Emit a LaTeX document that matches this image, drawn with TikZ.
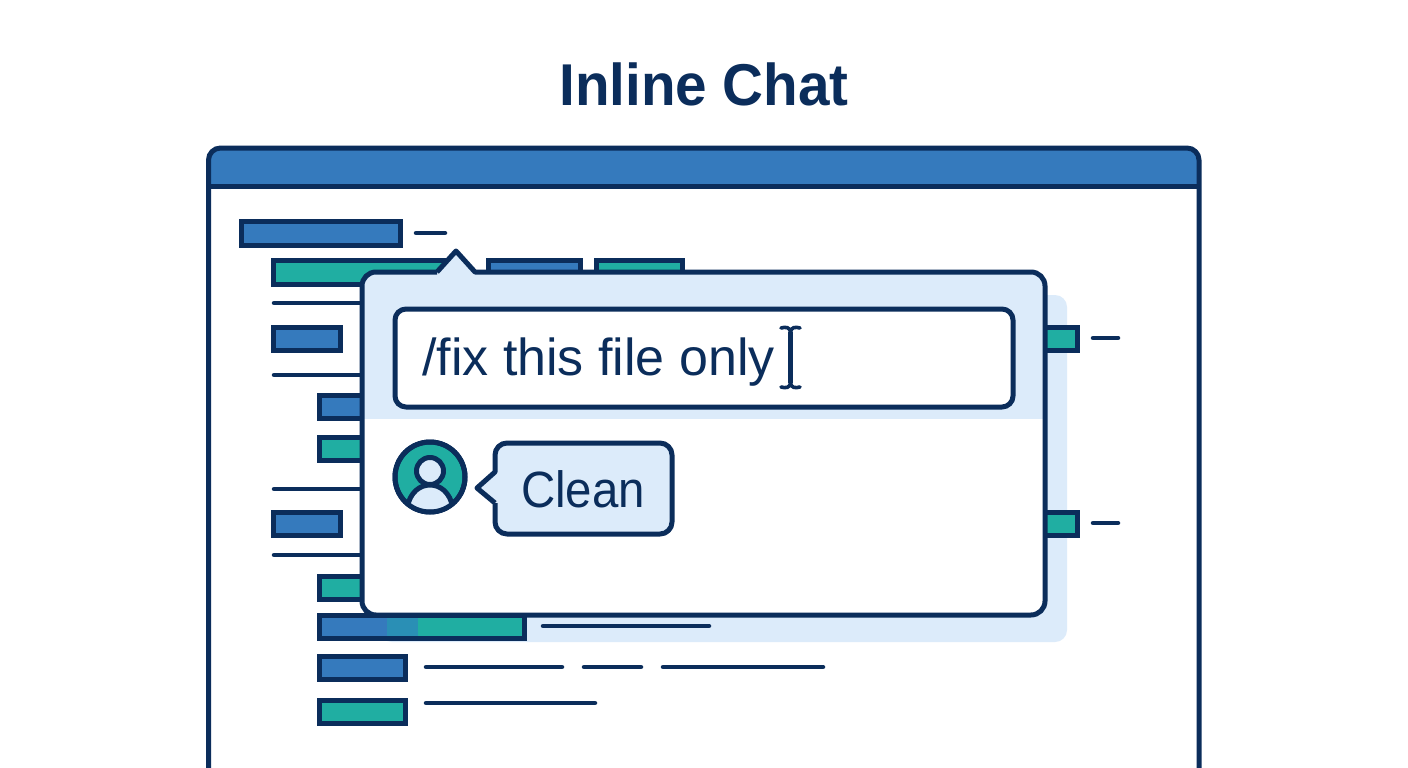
\documentclass[tikz,border=0pt]{standalone}
\usepackage{fontspec}
\setmainfont{Liberation Sans}
\definecolor{navy}{HTML}{0B2D5B}
\definecolor{barblue}{HTML}{357ABD}
\definecolor{bargreen}{HTML}{20AEA2}
\definecolor{barmix}{HTML}{2A8FB5}
\definecolor{pale}{HTML}{DCEBFA}
\tikzset{
  ink/.style={draw=navy,line width=5pt,line join=round},
  bluebar/.style={draw=navy,line width=5pt,line join=miter,fill=barblue},
  greenbar/.style={draw=navy,line width=5pt,line join=miter,fill=bargreen},
  codeline/.style={draw=navy,line width=4.5pt,line cap=round},
  label/.style={text=navy,inner sep=0pt,anchor=base west},
}
\begin{document}
\begin{tikzpicture}[x=1pt,y=-1pt]
\useasboundingbox (0,0) rectangle (1408,768);
\fill[white] (0,0) rectangle (1408,768);
\node[text=navy,inner sep=0pt,anchor=base] (title) at (704,105) {\fontspec{Liberation Sans Bold}[FakeStretch=0.96]\fontsize{59}{70}\selectfont Inline Chat};
% window
\fill[white,rounded corners=12pt] (208.5,790) -- (208.5,148) -- (1199,148) -- (1199,790) -- cycle;
\begin{scope}
\clip (200,140) rectangle (1210,186);
\fill[barblue,rounded corners=12pt] (208.5,230) -- (208.5,148) -- (1199,148) -- (1199,230) -- cycle;
\end{scope}
\begin{scope}
\clip (190,130) rectangle (1220,768);
\draw[ink,rounded corners=12pt] (208.5,790) -- (208.5,148) -- (1199,148) -- (1199,790);
\end{scope}
\draw[ink] (208.5,186) -- (1199,186);
% shadow of the popup
\fill[pale,rounded corners=12pt] (380,295) rectangle (1067,642);
% code
\draw[bluebar] (241.5,221.5) rectangle (400.5,245);
\draw[codeline] (416,233) -- (445,233);
\draw[greenbar] (273.5,260.5) rectangle (450,284);
\draw[bluebar] (488.5,260.5) rectangle (580,284);
\draw[greenbar] (596,260.5) rectangle (682,284);
\draw[codeline] (274,303) -- (370,303);
\draw[bluebar] (273.5,327.5) rectangle (340,350.5);
\draw[codeline] (274,375) -- (370,375);
\draw[bluebar] (319.5,395.5) rectangle (370,418);
\draw[greenbar] (319.5,437) rectangle (370,460);
\draw[codeline] (274,489) -- (370,489);
\draw[bluebar] (273.5,512) rectangle (340,535);
\draw[codeline] (274,555) -- (370,555);
\draw[greenbar] (319.5,576) rectangle (370,599);
\fill[barblue] (319.5,615) rectangle (387,638);
\fill[barmix] (387,615) rectangle (418,638);
\fill[bargreen] (418,615) rectangle (524,638);
\draw[draw=navy,line width=5pt,line join=miter] (319.5,615) rectangle (524,638);
\draw[codeline] (543,626) -- (709,626);
\draw[bluebar] (319.5,656) rectangle (405,679);
\draw[codeline] (426,667) -- (562,667);
\draw[codeline] (584,667) -- (641,667);
\draw[codeline] (663,667) -- (823,667);
\draw[greenbar] (319.5,700.5) rectangle (405,723);
\draw[codeline] (426,703) -- (595,703);
\draw[greenbar] (1030,327.5) rectangle (1077,350.5);
\draw[codeline] (1093,338) -- (1118,338);
\draw[greenbar] (1030,512) rectangle (1077,535);
\draw[codeline] (1093,523) -- (1118,523);
% popup
\fill[white,rounded corners=14pt] (362,272) rectangle (1045,615);
\begin{scope}
\clip[rounded corners=14pt] (362,272) rectangle (1045,615);
\fill[pale] (362,272) rectangle (1045,419);
\end{scope}
\fill[pale] (437,272) -- (456,251) -- (475,272) -- cycle;
\draw[ink] (437,272) -- (456,251) -- (475,272)
  [rounded corners=14pt] -- (1045,272) -- (1045,615) -- (362,615) -- (362,272) -- (437,272);
% input
\draw[ink,fill=white,rounded corners=11pt] (395,309) rectangle (1013,407);
\node[label] (cmd) at (422,375.5) {\fontsize{52}{60}\selectfont /fix this file only};
\draw[draw=navy,line width=4.5pt] (790.5,332) -- (790.5,383);
\draw[draw=navy,line width=3.6pt,line cap=round] (781,328) .. controls (786,326.5) and (790,327.5) .. (790.5,332) .. controls (791,327.5) and (795,326.5) .. (800,328);
\draw[draw=navy,line width=3.6pt,line cap=round] (781,387) .. controls (786,388.5) and (790,387.5) .. (790.5,383) .. controls (791,387.5) and (795,388.5) .. (800,387);
% avatar
\draw[ink,fill=bargreen] (430,477) circle (35);
\begin{scope}
\clip (430,477) circle (33);
\draw[ink,fill=pale] (407,512) -- (407,508) .. controls (410,492) and (420,485) .. (430,485) .. controls (440,485) and (450,492) .. (453,508) -- (453,512) -- cycle;
\end{scope}
\draw[ink,fill=pale] (430,471) circle (13.5);
\draw[ink] (430,477) circle (35);
% bubble
\draw[ink,fill=pale] (495,503) -- (477,488) -- (495,472)
  [rounded corners=12pt] -- (495,443) -- (672,443) -- (672,534) -- (495,534) -- (495,503);
\node[label] (clean) at (521,507) {\fontspec{Liberation Sans}[FakeStretch=0.93]\fontsize{51}{60}\selectfont Clean};
\end{tikzpicture}
\end{document}
